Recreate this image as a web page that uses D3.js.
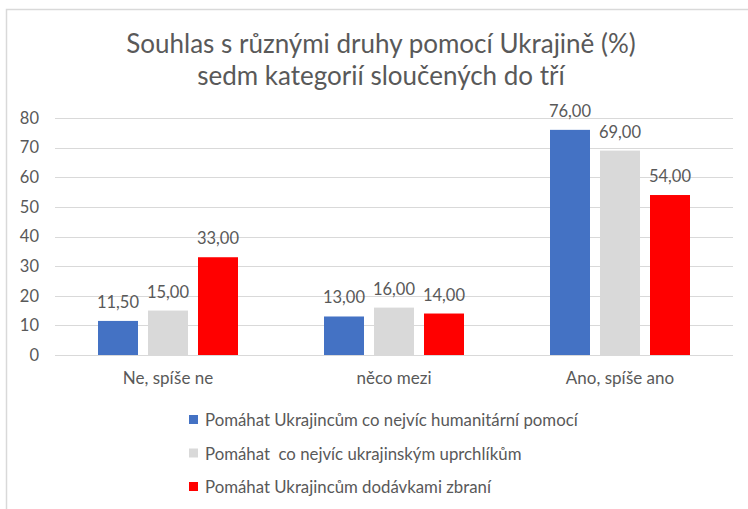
<!DOCTYPE html>
<html>
<head>
<meta charset="utf-8">
<script src="https://cdn.jsdelivr.net/npm/d3@7"></script>
<style>
  body { margin: 0; background: #fff; }
  svg text { font-family: "Lato", "Open Sans", sans-serif; fill: #595959; }
</style>
</head>
<body>
<div id="chart"></div>
<script>
// data
var categories = ["Ne, spíše ne", "něco mezi", "Ano, spíše ano"];
var seriesNames = [
  "Pomáhat Ukrajincům co nejvíc humanitární pomocí",
  "Pomáhat  co nejvíc ukrajinským uprchlíkům",
  "Pomáhat Ukrajincům dodávkami zbraní"
];
var humanitarni = [11.5, 13, 76];
var uprchlici = [15, 16, 69];
var zbrane = [33, 14, 54];
var yTicks = [0, 10, 20, 30, 40, 50, 60, 70, 80];
var titleLines = ["Souhlas s různými druhy pomocí Ukrajině (%)", "sedm kategorií sloučených do tří"];

var seriesValues = [humanitarni, uprchlici, zbrane];
var colors = ["#4472C4", "#D9D9D9", "#FF0000"];

var W = 748, H = 509;
var margin = { top: 118, right: 15, bottom: 154, left: 55 },
  width = W - margin.left - margin.right,
  height = H - margin.top - margin.bottom;

var root = d3.select("#chart").append("svg")
  .attr("width", W)
  .attr("height", H);

// outer frame (only top and left edges visible)
root.append("path")
  .attr("d", "M6.5," + H + "V9.5H" + W)
  .attr("fill", "none")
  .attr("stroke", "#D9D9D9")
  .attr("stroke-width", 1.5);

// title
root.selectAll(".title")
  .data(titleLines)
  .enter()
  .append("text")
  .attr("class", "title")
  .attr("x", 381)
  .attr("y", function (d, i) { return 53 + i * 32; })
  .attr("text-anchor", "middle")
  .style("font-size", "26px")
  .text(function (d) { return d; });

var svg = root.append("g")
  .attr("transform", "translate(" + margin.left + "," + margin.top + ")");

var x0 = d3.scaleBand().domain(categories).range([0, width]);
var x1 = d3.scaleBand().domain(d3.range(seriesNames.length))
  .range([x0.bandwidth() / 2 - 70, x0.bandwidth() / 2 + 70])
  .paddingInner(0.2);
var y = d3.scaleLinear().domain([0, 80]).range([height, 0]);

// gridlines
svg.append("g")
  .selectAll("line")
  .data(yTicks)
  .enter()
  .append("line")
  .attr("x1", 0)
  .attr("x2", width)
  .attr("y1", function (d) { return Math.round(y(d)) + 0.5; })
  .attr("y2", function (d) { return Math.round(y(d)) + 0.5; })
  .attr("stroke", "#D9D9D9")
  .attr("stroke-width", 1);

// y axis labels
var yaxis = svg.append("g")
  .call(d3.axisLeft(y).tickValues(yTicks).tickSize(0).tickPadding(16));
yaxis.select(".domain").remove();
yaxis.selectAll("text")
  .style("font-size", "16.5px")
  .style("font-family", "Lato, 'Open Sans', sans-serif")
  .attr("fill", "#595959");

// x axis labels
var xaxis = svg.append("g")
  .attr("transform", "translate(0," + height + ")")
  .call(d3.axisBottom(x0).tickSize(0).tickPadding(17));
xaxis.select(".domain").remove();
xaxis.selectAll("text")
  .style("font-size", "17px")
  .style("font-family", "Lato, 'Open Sans', sans-serif")
  .attr("fill", "#595959");

// bars
var groups = svg.selectAll(".grp")
  .data(categories)
  .enter()
  .append("g")
  .attr("class", "grp")
  .attr("transform", function (d) { return "translate(" + x0(d) + ",0)"; });

groups.selectAll("rect")
  .data(function (c, ci) {
    return seriesValues.map(function (vals, si) { return { s: si, v: vals[ci] }; });
  })
  .enter()
  .append("rect")
  .attr("x", function (d) { return x1(d.s); })
  .attr("y", function (d) { return y(d.v); })
  .attr("width", x1.bandwidth())
  .attr("height", function (d) { return height - y(d.v); })
  .attr("fill", function (d) { return colors[d.s]; });

// value labels
groups.selectAll(".val")
  .data(function (c, ci) {
    return seriesValues.map(function (vals, si) { return { s: si, v: vals[ci] }; });
  })
  .enter()
  .append("text")
  .attr("class", "val")
  .attr("x", function (d) { return x1(d.s) + x1.bandwidth() / 2; })
  .attr("y", function (d) { return y(d.v) - 13; })
  .attr("text-anchor", "middle")
  .style("font-size", "16.5px")
  .text(function (d) { return d.v.toFixed(2).replace(".", ","); });

// legend
var legend = root.selectAll(".leg")
  .data(seriesNames)
  .enter()
  .append("g")
  .attr("class", "leg")
  .attr("transform", function (d, i) { return "translate(189," + (420 + i * 33.5) + ")"; });

legend.append("rect")
  .attr("x", 0)
  .attr("y", -5)
  .attr("width", 9)
  .attr("height", 9)
  .attr("fill", function (d, i) { return colors[i]; });

legend.append("text")
  .attr("x", 16)
  .attr("y", 6)
  .style("font-size", "16.8px")
  .attr("xml:space", "preserve")
  .text(function (d) { return d; });
</script>
</body>
</html>
